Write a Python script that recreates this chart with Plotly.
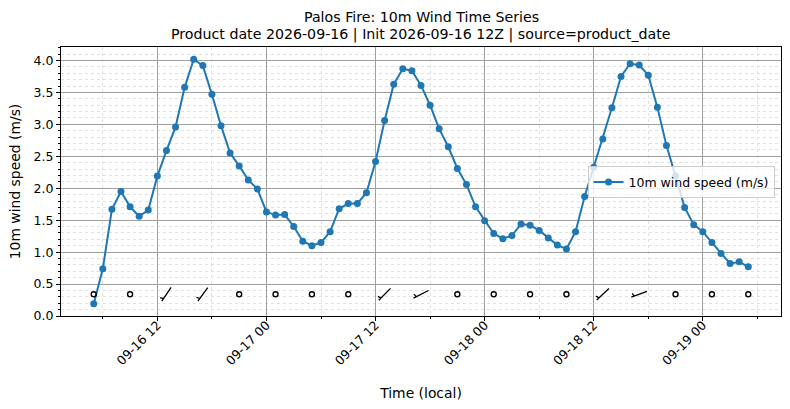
import numpy as np
import pandas as pd
import plotly.graph_objects as go

# ---------------- data ----------------
start_time = "2026-09-16 05:00"
n_hours = 73
times = pd.date_range(start_time, periods=n_hours, freq="h")

wind_speed = [
    # 09-16 05..23
    0.19, 0.74, 1.67, 1.95, 1.71, 1.56, 1.66, 2.19, 2.59, 2.96, 3.58, 4.02, 3.92, 3.47, 2.98, 2.55, 2.35, 2.13, 1.99,
    # 09-17 00..23
    1.63, 1.58, 1.59, 1.40, 1.17, 1.10, 1.15, 1.32, 1.68, 1.76, 1.76, 1.93, 2.42, 3.06, 3.63, 3.87, 3.84, 3.61, 3.30,
    2.93, 2.65, 2.31, 2.06, 1.71,
    # 09-18 00..23
    1.49, 1.29, 1.21, 1.26, 1.44, 1.42, 1.34, 1.22, 1.11, 1.05, 1.32, 1.87, 2.33, 2.77, 3.26, 3.75, 3.95, 3.93, 3.77,
    3.27, 2.67, 2.19, 1.70, 1.43,
    # 09-19 00..05
    1.32, 1.15, 0.98, 0.82, 0.85, 0.77,
]

# wind barbs every 4 hours (direction the wind blows FROM, degrees)
barb_every = 4
barb_dir = [200, 210, 214, 216, 220, 200, 190, 205, 225, 243, 230, 200, 190, 210, 227, 250, 235, 200, 195]

title_line1 = "Palos Fire: 10m Wind Time Series"
title_line2 = "Product date 2026-09-16 | Init 2026-09-16 12Z | source=product_date"
y_label = "10m wind speed (m/s)"
x_label = "Time (local)"
series_name = "10m wind speed (m/s)"

# ---------------- styling ----------------
BLUE = "#1f77b4"
FONT = "DejaVu Sans"
barb_row = 0.34          # y level of the barb row
barb_len = 16.7          # px
half_speed = 5.0

fig = go.Figure()
fig.add_trace(go.Scatter(
    x=times, y=wind_speed, mode="lines+markers", name=series_name,
    line=dict(color=BLUE, width=2), marker=dict(color=BLUE, size=7),
))

barb_times = times[::barb_every]
barb_spd = np.array(wind_speed)[::barb_every]
calm_x = []
shapes = []
for t, d, s in zip(barb_times, barb_dir, barb_spd):
    mag = half_speed * np.round(s / half_speed)
    if mag < half_speed:
        calm_x.append(t)
        continue
    rad = np.deg2rad(d)
    ex, ey = np.sin(rad), np.cos(rad)        # tip -> end (towards wind source)
    L = barb_len
    tipx, tipy = -ex * L / 2, -ey * L / 2
    endx, endy = ex * L / 2, ey * L / 2
    off = 1.5 * 0.125 * L
    axx, ayy = endx - ex * off, endy - ey * off
    px, py = ey, -ex                          # clockwise perpendicular
    sx = axx + px * 0.2 * L + ex * 0.0625 * L
    sy = ayy + py * 0.2 * L + ey * 0.0625 * L
    path = (f"M {tipx:.2f},{tipy:.2f} L {endx:.2f},{endy:.2f} "
            f"M {axx:.2f},{ayy:.2f} L {sx:.2f},{sy:.2f}")
    shapes.append(dict(
        type="path", xref="x", yref="y", xsizemode="pixel", ysizemode="pixel",
        xanchor=t.strftime("%Y-%m-%d %H:%M:%S"), yanchor=barb_row, path=path,
        line=dict(color="black", width=1.3), layer="above",
    ))

fig.add_trace(go.Scatter(
    x=calm_x, y=[barb_row] * len(calm_x), mode="markers", showlegend=False,
    marker=dict(symbol="circle-open", size=5, color="black", line=dict(width=1.4, color="black")),
    hoverinfo="skip",
))

span = times[-1] - times[0]
x_range = [times[0] - 0.05 * span, times[-1] + 0.05 * span]
y_max = max(wind_speed) + 0.05 * (max(wind_speed) - min(wind_speed))

grid_major = "#a0a0a0"
grid_minor = "#e0e0e0"

H_PLOT = 409 - 47 - 93
fig.update_layout(
    width=790, height=409,
    margin=dict(l=61, r=9, t=47, b=93, autoexpand=False),
    paper_bgcolor="white", plot_bgcolor="white",
    font=dict(family=FONT, size=12.5, color="black"),
    shapes=shapes,
    annotations=[
        dict(text=title_line1, xref="paper", yref="paper", x=0.5, y=1 + (47 - 17) / H_PLOT,
             xanchor="center", yanchor="middle", showarrow=False,
             font=dict(family=FONT, size=14.2, color="black")),
        dict(text=title_line2, xref="paper", yref="paper", x=0.5, y=1 + (47 - 34.5) / H_PLOT,
             xanchor="center", yanchor="middle", showarrow=False,
             font=dict(family=FONT, size=14.2, color="black")),
    ],
    showlegend=True,
    legend=dict(x=0.991, y=0.497, xanchor="right", yanchor="middle",
                bgcolor="rgba(255,255,255,0.8)", bordercolor="#cccccc", borderwidth=1,
                font=dict(family=FONT, size=12.5), itemwidth=30, tracegroupgap=0),
    xaxis=dict(
        type="date", range=x_range,
        tick0="2026-09-16 00:00", dtick=12 * 3600 * 1000, tickformat="%m-%d %H",
        tickangle=-45, ticks="outside", ticklen=4, tickcolor="black",
        ticklabelstandoff=-8,
        showline=True, linecolor="black", linewidth=1, mirror=True,
        showgrid=True, gridcolor=grid_major, gridwidth=0.8,
        zeroline=False,
        minor=dict(dtick=6 * 3600 * 1000, ticks="outside", ticklen=2, tickcolor="black",
                   showgrid=True, gridcolor=grid_minor, griddash="dot", gridwidth=0.6),
        title=dict(text=x_label, font=dict(family=FONT, size=13.9), standoff=21),
        tickfont=dict(family=FONT, size=12.5),
    ),
    yaxis=dict(
        range=[0, y_max], dtick=0.5, tick0=0, tickformat=".1f",
        ticks="outside", ticklen=4, tickcolor="black",
        showline=True, linecolor="black", linewidth=1, mirror=True,
        showgrid=True, gridcolor=grid_major, gridwidth=0.8,
        zeroline=False,
        minor=dict(dtick=0.1, ticks="outside", ticklen=2, tickcolor="black",
                   showgrid=True, gridcolor=grid_minor, griddash="dot", gridwidth=0.6),
        title=dict(text=y_label, font=dict(family=FONT, size=13.9), standoff=9),
        tickfont=dict(family=FONT, size=12.5),
    ),
)

fig.write_html(
    "out.html",
    config={"displayModeBar": False},
    post_script="document.body.style.margin='0';document.body.style.overflow='hidden';",
)
